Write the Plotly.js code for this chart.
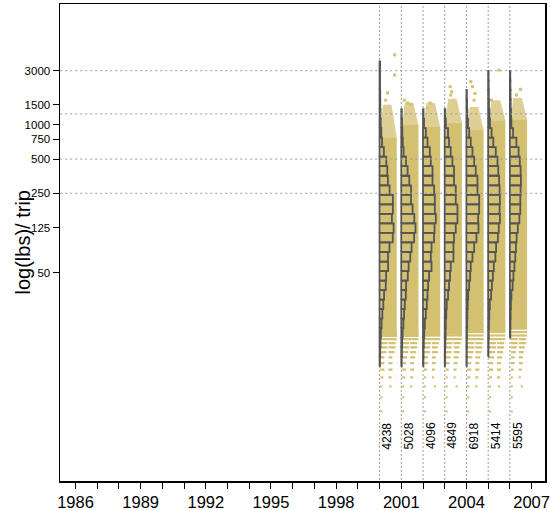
<!DOCTYPE html>
<html><head><meta charset="utf-8">
<script src="https://cdn.plot.ly/plotly-3.0.1.min.js"></script>
<style>body{margin:0;background:#fff}#chart{width:550px;height:510px}</style>
</head><body><div id="chart"></div>
<script>
// ---------------- data ----------------
const years = [2000, 2001, 2002, 2003, 2004, 2005, 2006];
const tripCounts = [4238, 5028, 4096, 4849, 6918, 5414, 5595];
const axisYears = [1986,1987,1988,1989,1990,1991,1992,1993,1994,1995,1996,1997,1998,1999,2000,2001,2002,2003,2004,2005,2006,2007];
const labeledYears = [1986, 1989, 1992, 1995, 1998, 2001, 2004, 2007];
const yTickLbs = [50, 125, 250, 500, 750, 1000, 1500, 3000];
const refLineLbs = [250, 500, 1250, 3000];

// histogram of log10(lbs/trip): bins of equal log width, first bin's upper edge given
const histFirstUpperLog = 3.559;
const histBinWidthLog = 0.0839;
// relative bar lengths per bin (top bin first), one list per year
const hist2000 = [0.5,0.5,0.5,0.6,0.7,0.9,1.2,1.8,2.5,4.3,6.7,7.7,8.3,10,13.3,13.3,12.3,14,13.2,9.9,8.4,8.5,6.5,6.2,4.5,3.7,2.8,2,1.3,0.9,0.6,0.4];
const hist2001 = [0,0,0,0,0,0.5,0.7,1,1.5,2.3,4.7,6.3,8,9.7,9.7,11.3,13,14.2,12.8,10.3,9,7.3,6.5,4.8,4.5,3.5,2.8,2.1,1.3,0.9,0.6,0.4];
const hist2002 = [0,0,0,0,0,0.5,1,2.8,4.5,6.8,7.8,9.5,9.5,11.1,11.8,11.8,12.8,11.5,11,8.5,7.8,8.5,6.1,5.1,4.5,3.8,2.8,1.8,1.2,0.8,0.5,0.4];
const hist2003 = [0,0,0,0,0,0.5,1,3.3,4.3,6,7.7,9.3,9.3,11,11,12.7,12.7,11,9.3,8.7,8.7,6,5.3,4.3,3.3,2,1.5,1,0.8,0.6,0.4,0.3];
const hist2004 = [0,0,0,0.4,0.6,0.9,1.5,2.7,4.3,6,7.7,9.3,11,11,12.7,12.7,11.7,12,10,7.7,6,4.3,3.7,2.7,1.7,1.2,0.9,0.7,0.5,0.4,0.3,0.3];
const hist2005 = [0,0.4,0.5,0.6,0.8,1.2,1.8,3.4,5.1,7.6,9.3,10.1,10.9,11.4,11.7,11.4,11.7,10.6,9.7,7.9,7.2,5.6,4.7,3.7,2.9,1.6,1.1,0.8,0.5,0.4,0.3,0];
const hist2006 = [0,0.4,0.5,0.6,0.8,1.1,1.5,3.2,6.5,8.7,9.9,10.7,11,10.7,10.4,10.4,9.5,7.9,6.7,6,5.4,4.5,3.5,2.7,1.5,1,0.7,0.5,0.4,0,0,0];
const histByYear = [hist2000, hist2001, hist2002, hist2003, hist2004, hist2005, hist2006];

// jittered trip cloud: dense band limits (lbs) per year
const cloudBottomLbs = [13.6, 13.6, 13.8, 14.2, 14.7, 15, 15.7];
const cloudDenseTopLbs = [780, 1000, 960, 1050, 900, 1100, 1120];
const cloudSparseTopLbs = [1500, 1560, 1560, 1700, 1440, 1650, 1720];
// small catches fall on whole pounds: rows and how filled they look
const rowLbs = [3, 4, 5, 6, 7, 8, 9, 10, 11, 12, 13, 14, 15];
const rowFill2000 = [0.06,0.1,0.22,0.35,0.45,0.5,0.55,0.7,0.85,0.9,0.95,1,1];
const rowFill2001 = [0.05,0.12,0.25,0.35,0.45,0.5,0.6,0.75,0.85,0.9,0.95,1,1];
const rowFill2002 = [0.08,0.12,0.2,0.3,0.4,0.5,0.55,0.7,0.8,0.9,0.95,1,1];
const rowFill2003 = [0.05,0.1,0.2,0.3,0.4,0.5,0.6,0.7,0.8,0.9,0.95,1,1];
const rowFill2004 = [0.06,0.12,0.25,0.35,0.45,0.5,0.6,0.7,0.85,0.9,0.95,1,1];
const rowFill2005 = [0.08,0.12,0.22,0.35,0.45,0.55,0.6,0.7,0.85,0.9,0.95,0.95,1];
const rowFill2006 = [0.05,0.1,0.2,0.3,0.4,0.5,0.55,0.65,0.8,0.85,0.9,0.95,0.95];
const rowFillByYear = [rowFill2000,rowFill2001,rowFill2002,rowFill2003,rowFill2004,rowFill2005,rowFill2006];
// isolated large trips (year, jitter offset in years, lbs)
const outlierYear = [2000,2000,2000,2000,2001,2001,2001,2002,2002,2003,2003,2003,2004,2004,2004,2004,2005,2005,2006,2006];
const outlierJitter = [0.69,0.69,0.37,0.28,0.14,0.29,0.44,0.33,0.2,0.25,0.32,0.28,0.2,0.28,0.39,0.35,0.5,0.15,0.49,0.3];
const outlierLbs = [4130,2750,1910,1650,1650,1560,1520,1557,1400,2170,1960,1830,2400,2170,1890,1650,3040,1650,2057,1830];

// ---------------- styles ----------------
const KHAKI = '#D3C070';
const KHAKI_SOFT = 'rgba(211,192,112,0.75)';
const HIST_LINE = '#555555';
const GRID = '#999999';
const FONT = 'Liberation Sans, Arial, sans-serif';
const PX_PER_YEAR = 21.72;
const CLOUD_L = 0.04, CLOUD_R = 0.79;

const traces = [];

// rows of small catches
years.forEach((yr, i) => {
  rowLbs.forEach((v, j) => {
    const d = rowFillByYear[i][j];
    let dash;
    if (d >= 0.95) dash = 'solid';
    else if (d >= 0.25) { const on = Math.max(2, Math.round(8 * d)); dash = on + 'px,' + (8 - on) + 'px'; }
    else { dash = '2px,' + Math.round(2 / d - 2) + 'px'; }
    traces.push({type:'scatter', mode:'lines', x:[yr + CLOUD_L, yr + CLOUD_R], y:[v, v],
      line:{color:KHAKI, width:2.2, dash:dash}, hoverinfo:'skip', showlegend:false});
  });
});

// dense cloud and sparse top
years.forEach((yr, i) => {
  traces.push({type:'scatter', mode:'lines', fill:'toself', fillcolor:KHAKI,
    x:[yr + CLOUD_L, yr + CLOUD_R, yr + CLOUD_R, yr + CLOUD_L, yr + CLOUD_L],
    y:[cloudBottomLbs[i], cloudBottomLbs[i], cloudDenseTopLbs[i], cloudDenseTopLbs[i], cloudBottomLbs[i]],
    line:{width:0, color:KHAKI}, hoverinfo:'skip', showlegend:false});
  traces.push({type:'scatter', mode:'lines', fill:'toself', fillcolor:KHAKI_SOFT,
    x:[yr + CLOUD_L, yr + CLOUD_R, yr + 0.55, yr + 0.15, yr + CLOUD_L],
    y:[cloudDenseTopLbs[i], cloudDenseTopLbs[i], cloudSparseTopLbs[i], cloudSparseTopLbs[i], cloudDenseTopLbs[i]],
    line:{width:0, color:KHAKI_SOFT}, hoverinfo:'skip', showlegend:false});
});

// outliers
traces.push({type:'scatter', mode:'markers',
  x: outlierYear.map((yr, k) => yr + outlierJitter[k]), y: outlierLbs,
  marker:{symbol:'square', size:3, color:KHAKI, line:{width:0}}, hoverinfo:'skip', showlegend:false});

// histograms (outlined boxes anchored at the year line)
years.forEach((yr, i) => {
  const xs = [], ys = [];
  histByYear[i].forEach((len, k) => {
    if (len <= 0) return;
    const hiLog = histFirstUpperLog - k * histBinWidthLog;
    const loLog = hiLog - histBinWidthLog;
    const lo = Math.pow(10, loLog), hi = Math.pow(10, hiLog);
    const x1 = yr + len / PX_PER_YEAR;
    xs.push(yr, x1, x1, yr, yr, null);
    ys.push(lo, lo, hi, hi, lo, null);
  });
  traces.push({type:'scatter', mode:'lines', x:xs, y:ys,
    line:{color:HIST_LINE, width:1.8}, hoverinfo:'skip', showlegend:false});
});

// reference lines (dashed), drawn as traces in data coordinates
years.forEach(yr => traces.unshift({type:'scatter', mode:'lines', x:[yr, yr], y:[0.5, 20000],
  line:{color:GRID, width:1, dash:'2px,2px'}, hoverinfo:'skip', showlegend:false}));
refLineLbs.forEach(v => traces.push({type:'scatter', mode:'lines', x:[1980, 2010], y:[v, v],
  line:{color:GRID, width:1, dash:'2px,3px'}, hoverinfo:'skip', showlegend:false}));

const annotations = years.map((yr, i) => ({
  x: yr + 0.34, xref:'x', y:0.095, yref:'paper', text:String(tripCounts[i]), textangle:-90,
  showarrow:false, xanchor:'center', yanchor:'middle', font:{family:FONT, size:12, color:'#000'}
}));
annotations.push({x:-0.0763, xref:'paper', y:0.5, yref:'paper', text:'log(lbs)/ trip', textangle:-90,
  showarrow:false, xanchor:'center', yanchor:'middle', font:{family:FONT, size:20, color:'#000'}});

const layout = {
  width:550, height:510,
  margin:{l:60, r:5, t:4, b:29},
  paper_bgcolor:'#fff', plot_bgcolor:'#fff',
  showlegend:false,
  xaxis:{range:[1985.286, 2007.616], tickvals:axisYears,
    ticktext:axisYears.map(y => labeledYears.includes(y) ? String(y) : ''),
    ticks:'outside', ticklen:6, tickwidth:1, tickcolor:'#000',
    showline:true, linecolor:'#000', linewidth:1.5, mirror:true,
    showgrid:false, zeroline:false, tickfont:{family:FONT, size:16.5, color:'#000'}},
  yaxis:{type:'log', range:[-0.1347, 4.064], tickvals:yTickLbs, ticktext:yTickLbs.map(String),
    ticks:'outside', ticklen:6, tickwidth:1, tickcolor:'#000',
    showline:true, linecolor:'#000', linewidth:1.5, mirror:true,
    showgrid:false, zeroline:false, tickfont:{family:FONT, size:11.5, color:'#000'}},
  annotations:annotations
};

Plotly.newPlot('chart', traces, layout, {staticPlot:true, displayModeBar:false});
</script>
</body></html>
